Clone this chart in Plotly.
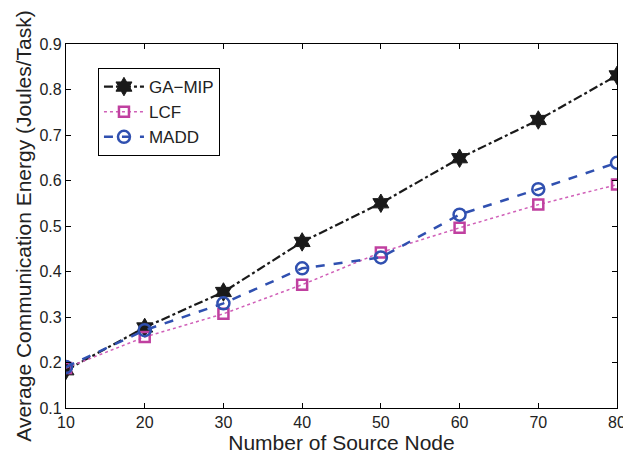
import plotly.graph_objects as go

x_nodes = [10, 20, 30, 40, 50, 60, 70, 80]
ga_mip = [0.183, 0.277, 0.355, 0.465, 0.55, 0.649, 0.733, 0.831]
lcf = [0.188, 0.256, 0.307, 0.371, 0.442, 0.496, 0.547, 0.591]
madd = [0.19, 0.271, 0.33, 0.407, 0.431, 0.525, 0.581, 0.639]
y_ticks = [0.1, 0.2, 0.3, 0.4, 0.5, 0.6, 0.7, 0.8, 0.9]
y_ticktext = ["0.1", "0.2", "0.3", "0.4", "0.5", "0.6", "0.7", "0.8", "0.9"]

fig = go.Figure()
fig.add_trace(go.Scatter(
    x=x_nodes, y=ga_mip, name="GA\u2212MIP", mode="lines+markers",
    line=dict(color="#1a1a1a", width=2.2, dash="dashdot"),
    marker=dict(symbol="hexagram", size=14, color="#1a1a1a", line=dict(color="#1a1a1a", width=1)),
))
fig.add_trace(go.Scatter(
    x=x_nodes, y=lcf, name="LCF", mode="lines+markers",
    line=dict(color="#d060b8", width=1.5, dash="dot"),
    marker=dict(symbol="square-open", size=10, color="#c040a0", line=dict(color="#c040a0", width=2.5)),
))
fig.add_trace(go.Scatter(
    x=x_nodes, y=madd, name="MADD", mode="lines+markers",
    line=dict(color="#3050b0", width=2.5, dash="dash"),
    marker=dict(symbol="circle-open", size=12, color="#3050b0", line=dict(color="#3050b0", width=2.5)),
))

axis_common = dict(
    showline=True, linecolor="black", linewidth=1.2, mirror="allticks",
    ticks="inside", ticklen=5, tickcolor="black", showgrid=False, zeroline=False,
    automargin=False, ticklabeloverflow="allow",
    tickfont=dict(family="Liberation Sans, Arial", size=16, color="#222"),
)
fig.update_xaxes(range=[10, 80], tickvals=x_nodes,
                 title=dict(text="Number of Source Node", standoff=0,
                            font=dict(family="Liberation Sans, Arial", size=21, color="#222")),
                 **axis_common)
fig.update_yaxes(range=[0.1, 0.9], tickvals=y_ticks, ticktext=y_ticktext,
                 title=dict(text="Average Communication Energy (Joules/Task)", standoff=2,
                            font=dict(family="Liberation Sans, Arial", size=21, color="#222")),
                 **axis_common)

fig.update_layout(
    width=623, height=454,
    margin=dict(l=66, r=6, t=44, b=46),
    plot_bgcolor="white", paper_bgcolor="white",
    showlegend=True,
    legend=dict(x=0.058, y=0.934, xanchor="left", yanchor="top",
                bordercolor="black", borderwidth=1, bgcolor="white",
                font=dict(family="Liberation Sans, Arial", size=17, color="#222"),
                itemwidth=40, tracegroupgap=0),
)

fig.write_html("out.html", config={"displayModeBar": False},
               post_script="document.body.style.margin='0';")
